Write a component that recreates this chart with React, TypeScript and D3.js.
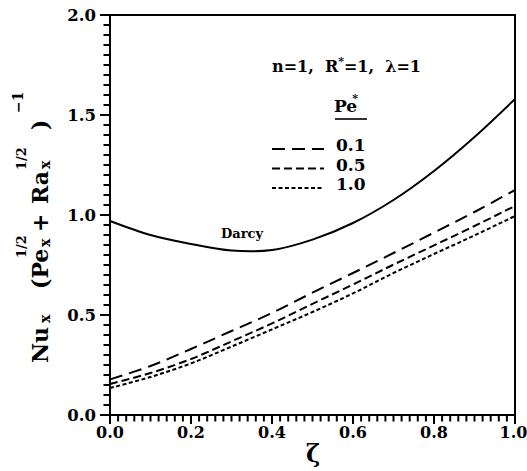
import React from "react";
import * as d3 from "d3";

const zeta = [0, 0.1, 0.2, 0.3, 0.4, 0.5, 0.6, 0.7, 0.8, 0.9, 1.0];
const darcy = [0.97, 0.9, 0.855, 0.822, 0.825, 0.877, 0.96, 1.075, 1.22, 1.39, 1.58];
const pe01 = [0.178, 0.245, 0.33, 0.42, 0.51, 0.612, 0.71, 0.81, 0.912, 1.015, 1.125];
const pe05 = [0.155, 0.21, 0.28, 0.368, 0.458, 0.556, 0.652, 0.752, 0.848, 0.945, 1.045];
const pe10 = [0.135, 0.19, 0.258, 0.342, 0.428, 0.515, 0.608, 0.71, 0.805, 0.898, 0.995];
const peLabels = ["0.1", "0.5", "1.0"];
const xTicks = [0, 0.2, 0.4, 0.6, 0.8, 1.0];
const yTicks = [0, 0.5, 1.0, 1.5, 2.0];

const FONT = "'DejaVu Serif', 'Liberation Serif', serif";

export default function App() {
  const x = d3.scaleLinear().domain([0, 1]).range([110, 515]);
  const y = d3.scaleLinear().domain([0, 2]).range([415, 15]);
  const line = d3
    .line<number>()
    .x((_, i) => x(zeta[i]))
    .y((d) => y(d))
    .curve(d3.curveCatmullRom.alpha(0.5));

  const series = [
    { vals: pe01, dash: "13,7" },
    { vals: pe05, dash: "8,4" },
    { vals: pe10, dash: "4,2.5" },
  ];

  const xMinor = x.ticks(50);
  const yMinor = y.ticks(40);

  return (
    <svg
      width={527}
      height={471}
      style={{ position: "absolute", left: 0, top: 0, background: "#fff" }}
      fontFamily={FONT}
    >
      <rect x={0} y={0} width={527} height={471} fill="#fff" />
      {/* frame */}
      <rect x={x(0)} y={y(2)} width={x(1) - x(0)} height={y(0) - y(2)} fill="none" stroke="#000" strokeWidth={2} />
      {/* ticks */}
      {xMinor.map((t, i) => (
        <line key={"xt" + i} x1={x(t)} x2={x(t)} y1={y(0)} y2={y(0) + (i % 10 === 0 ? 9 : 6.5)} stroke="#000" strokeWidth={2} />
      ))}
      {yMinor.map((t, i) => (
        <line key={"yt" + i} x1={x(0)} x2={x(0) - (i % 10 === 0 ? 10 : 6.5)} y1={y(t)} y2={y(t)} stroke="#000" strokeWidth={2} />
      ))}
      {xTicks.map((t, i) => (
        <text key={"xl" + t} x={x(t) - (i === xTicks.length - 1 ? 1.5 : 0)} y={438} textAnchor="middle" fontSize={16} fontWeight="bold">
          {t.toFixed(1)}
        </text>
      ))}
      {yTicks.map((t) => (
        <text key={"yl" + t} x={96} y={y(t) + 6} textAnchor="end" fontSize={16.5} fontWeight="bold">
          {t.toFixed(1)}
        </text>
      ))}
      {/* curves */}
      <path d={line(darcy) || ""} fill="none" stroke="#000" strokeWidth={2} />
      {series.map((s, i) => (
        <path key={"s" + i} d={line(s.vals) || ""} fill="none" stroke="#000" strokeWidth={2} strokeDasharray={s.dash} />
      ))}
      <text x={221} y={238} fontSize={13} fontWeight="bold">Darcy</text>
      {/* legend */}
      <text x={272} y={72} fontSize={16} fontWeight="bold" style={{ whiteSpace: "pre" }}>
        {"n=1,  R"}<tspan dy={-7} fontSize={11}>*</tspan><tspan dy={7}>{"=1,  λ=1"}</tspan>
      </text>
      <text x={334} y={112} fontSize={17} fontWeight="bold">
        Pe<tspan dx={-5} dy={-10} fontSize={11}>*</tspan>
      </text>
      <line x1={335} x2={367} y1={119} y2={119} stroke="#000" strokeWidth={1.6} />
      {series.map((s, i) => (
        <g key={"lg" + i}>
          <line x1={272} x2={324} y1={149 + i * 19.5} y2={149 + i * 19.5} stroke="#000" strokeWidth={2} strokeDasharray={s.dash} />
          <text x={336} y={151 + i * 19.5} fontSize={17} fontWeight="bold">{peLabels[i]}</text>
        </g>
      ))}
      {/* axis titles */}
      <text x={313} y={462} textAnchor="middle" fontSize={24} fontWeight="bold">ζ</text>
      <g transform="translate(48,363) rotate(-90)" fontWeight="bold">
        <text x={0} y={0} fontSize={22}>Nu</text>
        <text x={40} y={2} fontSize={14}>x</text>
        <text x={74} y={0} fontSize={22}>(Pe</text>
        <text x={116} y={2} fontSize={14}>x</text>
        <text x={105} y={-22} fontSize={13}>1/2</text>
        <text x={131} y={0} fontSize={22}>+</text>
        <text x={159} y={0} fontSize={22}>Ra</text>
        <text x={194} y={2} fontSize={14}>x</text>
        <text x={193} y={-22} fontSize={13}>1/2</text>
        <text x={233} y={0} fontSize={22}>)</text>
        <text x={250} y={-25} fontSize={14}>−1</text>
      </g>
    </svg>
  );
}
